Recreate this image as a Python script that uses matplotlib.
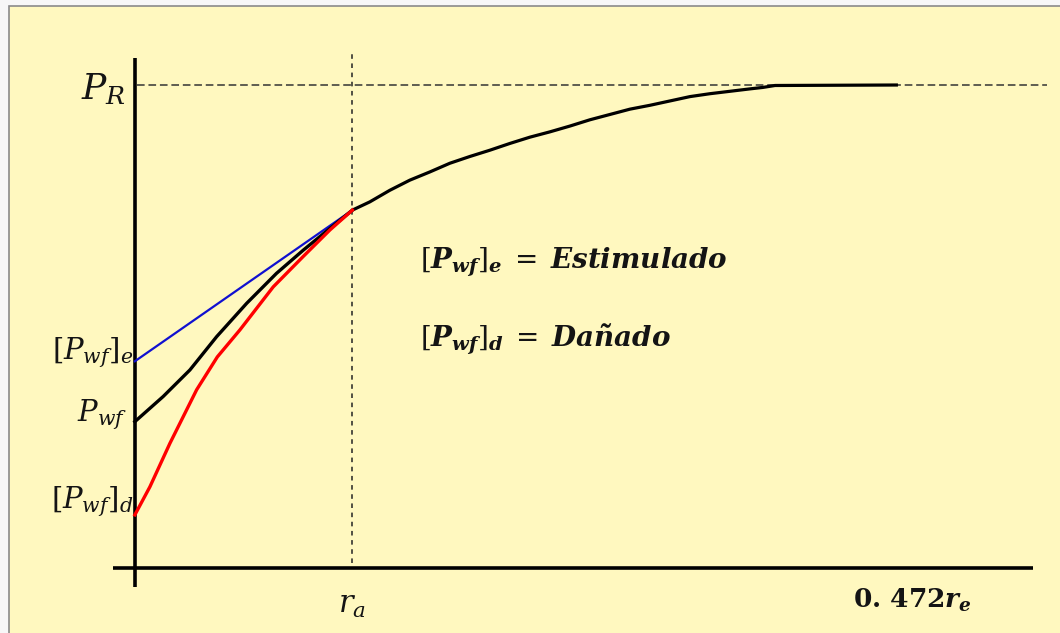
import matplotlib
matplotlib.use("Agg")
import matplotlib.pyplot as plt
from matplotlib.patches import Rectangle

plt.rcParams['mathtext.fontset'] = 'dejavuserif'

# ---- data (r in units of r_a, p in units of P_R) ----
r_a = 1.0
r_end = 4.13          # 0.472 r_e position on x axis
P_R = 1.0

# main (common) curve beyond r_a
r_main = [1.0, 1.080, 1.172, 1.264, 1.356, 1.448, 1.540, 1.632, 1.724, 1.816,
          1.908, 2.0, 2.092, 2.184, 2.276, 2.368, 2.460, 2.552, 2.644, 2.736,
          2.828, 2.887, 2.943, 3.508]
p_main = [0.741, 0.758, 0.782, 0.803, 0.820, 0.838, 0.852, 0.865, 0.879, 0.892,
          0.903, 0.915, 0.928, 0.939, 0.950, 0.958, 0.967, 0.976, 0.982, 0.987,
          0.992, 0.995, 0.999, 1.0]

# stimulated (blue)
r_stim = [0.0, 1.0]
p_stim = [0.428, 0.741]

# ideal Pwf (black)
r_ideal = [0.0, 0.130, 0.253, 0.376, 0.514, 0.651, 0.774, 1.0]
p_ideal = [0.303, 0.355, 0.410, 0.479, 0.548, 0.610, 0.658, 0.741]

# damaged (red)
r_dam = [0.0, 0.069, 0.161, 0.284, 0.379, 0.483, 0.636, 0.774, 0.897, 1.0]
p_dam = [0.110, 0.168, 0.258, 0.369, 0.437, 0.493, 0.582, 0.645, 0.700, 0.741]

bg = '#FFF8BF'
txt = '#141414'

fig = plt.figure(figsize=(10.6, 6.33), dpi=100)
fig.patch.set_facecolor('#F7F7F7')
fig.patches.append(Rectangle((9/1060, -0.01), 1.02, (633-6)/633 + 0.01,
                             transform=fig.transFigure, facecolor=bg,
                             edgecolor='#8A8A8A', linewidth=1.2, zorder=-10))

ax = fig.add_axes([0, 0, 1, 1])
ax.set_zorder(1)
ax.set_facecolor('none')
ax.set_xlim(-0.62, 4.253)
ax.set_ylim(-0.1346, 1.176)
ax.axis('off')

# axes
ax.plot([0, 0], [-0.039, 1.056], color='black', lw=2.6, solid_capstyle='butt')
ax.plot([-0.101, r_end], [0, 0], color='black', lw=2.6, solid_capstyle='butt')

# dashed guide lines
ax.plot([0.01, 4.193], [P_R, P_R], color='#333333', lw=1.1,
        linestyle=(0, (5, 2.5)))
ax.plot([r_a, r_a], [0.01, 1.068], color='#222222', lw=1.1,
        linestyle=(0, (3, 3)))

# curves
ax.plot(r_main, p_main, color='black', lw=2.3, solid_capstyle='butt',
        solid_joinstyle='round')
ax.plot(r_stim, p_stim, color='#1010D0', lw=1.6)
ax.plot(r_ideal, p_ideal, color='black', lw=2.4, solid_joinstyle='round')
ax.plot(r_dam, p_dam, color='#FF0000', lw=2.4, solid_joinstyle='round')

# axis labels
ax.text(-0.04, P_R - 0.008, r'$P_R$', ha='right', va='center', fontsize=26, color=txt)
ax.text(-0.005, p_stim[0] + 0.017, r'$[P_{wf}]_e$', ha='right', va='center',
        fontsize=21, color=txt)
ax.text(-0.035, p_ideal[0] + 0.015, r'$P_{wf}$', ha='right', va='center',
        fontsize=21, color=txt)
ax.text(-0.005, p_dam[0] + 0.027, r'$[P_{wf}]_d$', ha='right', va='center',
        fontsize=21, color=txt)
ax.text(r_a, -0.078, r'$r_a$', ha='center', va='center', fontsize=22, color=txt)
ax.text(3.575, -0.068, r'$\mathbf{0.\,472}\mathbfit{r}_{\mathbfit{e}}$', ha='center',
        va='center', fontsize=19, color=txt)

# legend-like annotations
ax.text(1.31, 0.633,
        r'$[\mathbfit{P}_{\mathbfit{wf}}]_{\mathbfit{e}}\;=\;\mathbfit{Estimulado}$',
        ha='left', va='center', fontsize=20, color=txt)
ax.text(1.31, 0.475,
        r'$[\mathbfit{P}_{\mathbfit{wf}}]_{\mathbfit{d}}\;=\;\mathbfit{Dañado}$',
        ha='left', va='center', fontsize=20, color=txt)

fig.savefig('out.png', dpi=100, facecolor=fig.get_facecolor())
